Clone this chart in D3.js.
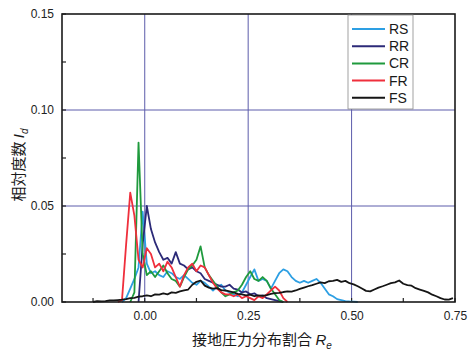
<!DOCTYPE html>
<html>
<head>
<meta charset="utf-8">
<script src="https://cdn.jsdelivr.net/npm/d3@7"></script>
<style>
  body { margin: 0; background: #fff; }
  text { font-family: "Liberation Sans", Arial, sans-serif; }
</style>
</head>
<body>
<div id="root"></div>
<script>
// x grid: start + i * step (relative contact pressure ratio)
const step = 0.01

const seriesNames = ['RS', 'RR', 'CR', 'FR', 'FS']
const seriesColors = ['#2d9fe3', '#2c2a78', '#1f9a3d', '#ef2f3c', '#151515']

const rsStart = -0.055
const rsValues = [0, 0.002, 0.007, 0.012, 0.018, 0.047, 0.02, 0.015, 0.016, 0.014,
  0.013, 0.016, 0.015, 0.013, 0.012, 0.014, 0.012, 0.01, 0.009, 0.011,
  0.01, 0.008, 0.006, 0.008, 0.009, 0.006, 0.005, 0.004, 0.003, 0.005,
  0.009, 0.013, 0.017, 0.011, 0.012, 0.011, 0.007, 0.011, 0.015, 0.017,
  0.016, 0.013, 0.011, 0.01, 0.011, 0.01, 0.011, 0.012, 0.01, 0.007,
  0.004, 0.003, 0.0015, 0.001, 0.0005, 0.0003, 0.0002, 0]

const rrStart = -0.015
const rrValues = [0, 0.03, 0.05, 0.038, 0.031, 0.026, 0.022, 0.023, 0.02, 0.026,
  0.02, 0.019, 0.017, 0.018, 0.016, 0.015, 0.012, 0.011, 0.01, 0.009,
  0.008, 0.008, 0.009, 0.007, 0.0065, 0.005, 0.0055, 0.004, 0.0045, 0.003,
  0.0035, 0.002, 0.0015, 0.001, 0.0005, 0]

const crStart = -0.035
const crValues = [0, 0.005, 0.083, 0.025, 0.014, 0.016, 0.013, 0.016, 0.019, 0.015,
  0.012, 0.011, 0.008, 0.013, 0.017, 0.019, 0.022, 0.029, 0.018, 0.014,
  0.011, 0.008, 0.005, 0.003, 0.004, 0.005, 0.006, 0.009, 0.013, 0.016,
  0.012, 0.011, 0.013, 0.011, 0.007, 0.004, 0.001, 0]

const frStart = -0.065
const frValues = [0, 0.001, 0.03, 0.057, 0.045, 0.022, 0.018, 0.028, 0.025, 0.018,
  0.02, 0.016, 0.021, 0.018, 0.013, 0.008, 0.014, 0.018, 0.02, 0.016,
  0.019, 0.018, 0.014, 0.01, 0.007, 0.005, 0.004, 0.004, 0.003, 0.004,
  0.002, 0.003, 0.002, 0.001, 0.003, 0.002, 0.004, 0.006, 0.008, 0.006,
  0.002, 0]

const fsStart = -0.125
const fsValues = [0, 0.0005, 0.0003, 0.0005, 0.0008, 0.0008, 0.001, 0.0012, 0.0015, 0.002,
  0.0022, 0.0028, 0.003, 0.0034, 0.003, 0.004, 0.0038, 0.0045, 0.004, 0.005,
  0.0048, 0.0055, 0.006, 0.0065, 0.009, 0.0105, 0.0112, 0.0085, 0.0075, 0.007,
  0.0072, 0.0062, 0.006, 0.0055, 0.005, 0.0042, 0.004, 0.0035, 0.0038, 0.003,
  0.0035, 0.0032, 0.0036, 0.0042, 0.0046, 0.0048, 0.0052, 0.0055, 0.0054, 0.006,
  0.0068, 0.0075, 0.0082, 0.0088, 0.0095, 0.0102, 0.0098, 0.0108, 0.011, 0.0115,
  0.0105, 0.011, 0.0098, 0.0092, 0.0082, 0.007, 0.0058, 0.0055, 0.0065, 0.0075,
  0.0082, 0.009, 0.0098, 0.0102, 0.0112, 0.0095, 0.0088, 0.0085, 0.0072, 0.0065,
  0.0058, 0.005, 0.0038, 0.003, 0.002, 0.0013, 0.0012, 0.002]

const seriesStarts = [rsStart, rrStart, crStart, frStart, fsStart]
const seriesValues = [rsValues, rrValues, crValues, frValues, fsValues]

const xTicks = [0, 0.25, 0.5, 0.75]
const xMinorTicks = [-0.125, 0.125, 0.375, 0.625]
const yTicks = [0, 0.05, 0.1, 0.15]
const yMinorTicks = [0.025, 0.075, 0.125]

const graph = { width: 469, height: 354, left: 62, top: 14, right: 455, bottom: 302 }

const svg = d3.select('#root')
  .append('svg')
  .attr('width', graph.width)
  .attr('height', graph.height)

const x = d3.scaleLinear().domain([-0.2, 0.75]).range([graph.left, graph.right])
const y = d3.scaleLinear().domain([0, 0.15]).range([graph.bottom, graph.top])

// grid
svg.append('g')
  .selectAll('line')
  .data(xTicks.filter(d => d < 0.75))
  .join('line')
  .attr('x1', d => x(d)).attr('x2', d => x(d))
  .attr('y1', graph.top).attr('y2', graph.bottom)
  .attr('stroke', '#5c5cab').attr('stroke-width', 1)

svg.append('g')
  .selectAll('line')
  .data(yTicks.filter(d => d > 0 && d < 0.15))
  .join('line')
  .attr('x1', graph.left).attr('x2', graph.right)
  .attr('y1', d => y(d)).attr('y2', d => y(d))
  .attr('stroke', '#5c5cab').attr('stroke-width', 1)

// axes
svg.append('g')
  .attr('transform', `translate(0, ${graph.bottom})`)
  .call(d3.axisBottom(x).tickValues(xTicks).tickFormat(d3.format('.2f')).tickSize(0).tickPadding(9))
  .call(g => g.select('.domain').remove())
  .call(g => g.selectAll('text').attr('font-size', 12).attr('fill', '#222'))

svg.append('g')
  .attr('transform', `translate(${graph.left}, 0)`)
  .call(d3.axisLeft(y).tickValues(yTicks).tickFormat(d3.format('.2f')).tickSize(0).tickPadding(8))
  .call(g => g.select('.domain').remove())
  .call(g => g.selectAll('text').attr('font-size', 12).attr('fill', '#222'))

// inner ticks
svg.append('g')
  .selectAll('line')
  .data(xTicks.concat(xMinorTicks))
  .join('line')
  .attr('x1', d => x(d)).attr('x2', d => x(d))
  .attr('y1', graph.bottom).attr('y2', graph.bottom - 4)
  .attr('stroke', '#222').attr('stroke-width', 1.2)

svg.append('g')
  .selectAll('line')
  .data(yTicks.concat(yMinorTicks))
  .join('line')
  .attr('x1', graph.left).attr('x2', graph.left + 4)
  .attr('y1', d => y(d)).attr('y2', d => y(d))
  .attr('stroke', '#222').attr('stroke-width', 1.2)

// curves
const line = d3.line()
  .x(d => x(d[0]))
  .y(d => y(d[1]))

seriesNames.forEach((name, k) => {
  const pts = seriesValues[k].map((v, i) => [seriesStarts[k] + i * step, v])
  svg.append('path')
    .datum(pts)
    .attr('fill', 'none')
    .attr('stroke', seriesColors[k])
    .attr('stroke-width', 1.8)
    .attr('stroke-linejoin', 'round')
    .attr('d', line)
})

// frame
svg.append('rect')
  .attr('x', graph.left).attr('y', graph.top)
  .attr('width', graph.right - graph.left)
  .attr('height', graph.bottom - graph.top)
  .attr('fill', 'none')
  .attr('stroke', '#1a1a1a').attr('stroke-width', 1.6)

// legend
const legend = svg.append('g')
legend.append('rect')
  .attr('x', 348).attr('y', 15).attr('width', 65).attr('height', 94)
  .attr('fill', '#fff').attr('stroke', '#8a8a8a').attr('stroke-width', 0.8)

seriesNames.forEach((name, k) => {
  const ly = 29 + k * 17.2
  legend.append('line')
    .attr('x1', 352).attr('x2', 385).attr('y1', ly).attr('y2', ly)
    .attr('stroke', seriesColors[k]).attr('stroke-width', 2)
  legend.append('text')
    .attr('x', 389).attr('y', ly + 5)
    .attr('font-size', 14).attr('fill', '#1a1a1a')
    .text(name)
})

// axis titles
const xTitle = svg.append('text')
  .attr('x', 262).attr('y', 345)
  .attr('text-anchor', 'middle')
  .attr('font-size', 15).attr('fill', '#1a1a1a')
xTitle.append('tspan').attr('font-family', '"Noto Sans CJK JP"').text('接地圧力分布割合 ')
xTitle.append('tspan').attr('font-style', 'italic').text('R')
xTitle.append('tspan').attr('font-style', 'italic').attr('font-size', 10).attr('dy', 4).text('e')

const yTitle = svg.append('text')
  .attr('transform', 'translate(24, 165) rotate(-90)')
  .attr('text-anchor', 'middle')
  .attr('font-size', 15).attr('fill', '#1a1a1a')
yTitle.append('tspan').attr('font-family', '"Noto Sans CJK JP"').text('相対度数 ')
yTitle.append('tspan').attr('font-style', 'italic').text('I')
yTitle.append('tspan').attr('font-style', 'italic').attr('font-size', 10).attr('dy', 4).text('d')
</script>
</body>
</html>
